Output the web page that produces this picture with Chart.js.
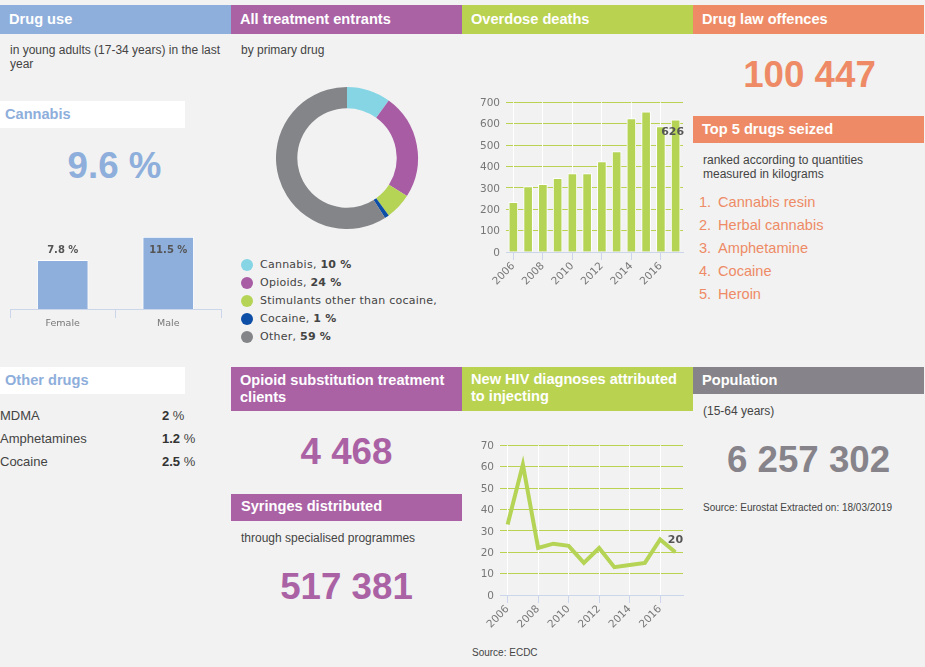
<!DOCTYPE html>
<html><head><meta charset="utf-8">
<script src="https://cdn.jsdelivr.net/npm/chart.js@4"></script>
<style>
html,body{margin:0;padding:0;background:#f2f2f2;}
#page{position:absolute;left:0;top:5px;width:924px;height:662px;background:#f2f2f2;overflow:hidden;font-family:"Liberation Sans",Arial,sans-serif;color:#444;}
.h{position:absolute;color:#fff;font-weight:bold;font-size:14.6px;line-height:17px;padding:5.5px 9px;box-sizing:border-box;}
.w{position:absolute;background:#fff;font-weight:bold;font-size:14.6px;padding-left:5px;box-sizing:border-box;color:#8eaedb;}
.t{position:absolute;font-size:12px;line-height:14px;color:#444;}
.n{position:absolute;font-weight:bold;text-align:center;}
canvas{position:absolute;}
#legend{position:absolute;left:241px;top:251px;font-family:"DejaVu Sans",sans-serif;font-size:11px;color:#444;letter-spacing:.25px;}
#legend div{height:18px;line-height:18px;white-space:nowrap;position:relative;padding-left:19px;}
#legend i{position:absolute;left:0;top:3px;width:12px;height:12px;border-radius:50%;}
#top5{position:absolute;left:699px;top:186px;font-size:14.6px;color:#ee8b66;}
#top5 div{height:23px;line-height:23px;white-space:nowrap;position:relative;}
#top5 span{position:absolute;left:19px;}
#other{position:absolute;left:0;top:399px;width:210px;font-size:13px;color:#444;}
#other div{height:23px;line-height:23px;position:relative;}
#other span{position:absolute;left:162px;}
#other b{color:#333;}
</style></head><body>
<div id="page"></div>
<script>
const genderLabels=['Female','Male'];
const genderValues=[7.8,11.5];
const genderValueText=['7.8 %','11.5 %'];
const treatmentLabels=['Cannabis','Opioids','Stimulants other than cocaine','Cocaine','Other'];
const treatmentValues=[10,24,6,1,59];
const treatmentLegendValues=['10 %','24 %','','1 %','59 %'];
const treatmentColors=['#85d5e5','#a85ca4','#b5d455','#0d4ea6','#848588'];
const years=['2006','2007','2008','2009','2010','2011','2012','2013','2014','2015','2016','2017'];
const deathValues=[232,306,316,344,367,367,423,470,624,656,586,618];
const deathLastLabel='626';
const hivValues=[33,61,22,24,23,15,22,13,14,15,26,20];
const hivLastLabel='20';
const deathTicks=[0,100,200,300,400,500,600,700];
const hivTicks=[0,10,20,30,40,50,60,70];
const seizedDrugs=['Cannabis resin','Herbal cannabis','Amphetamine','Cocaine','Heroin'];
const otherDrugs=['MDMA','Amphetamines','Cocaine'];
const otherDrugValues=['2','1.2','2.5'];

const BLUE='#8eaedb',PURPLE='#aa62a5',GREEN='#b9d24f',ORANGE='#ee8b66',GREY='#86848a';
const page=document.getElementById('page');
function el(cls,x,y,w,h,html,css){const d=document.createElement('div');d.className=cls;d.style.left=x+'px';d.style.top=(y-5)+'px';if(w!=null)d.style.width=w+'px';if(h!=null)d.style.height=h+'px';d.innerHTML=html;if(css)Object.assign(d.style,css);page.appendChild(d);return d;}
function canvas(x,y,w,h){const c=document.createElement('canvas');c.style.left=x+'px';c.style.top=(y-5)+'px';c.style.width=w+'px';c.style.height=h+'px';c.width=w;c.height=h;page.appendChild(c);return c;}

el('h',0,5,231,29,'Drug use',{background:BLUE});
el('h',231,5,231,29,'All treatment entrants',{background:PURPLE});
el('h',462,5,231,29,'Overdose deaths',{background:GREEN});
el('h',693,5,231,29,'Drug law offences',{background:ORANGE});
el('h',693,116,231,27,'Top 5 drugs seized',{background:ORANGE,paddingTop:'5px'});
el('h',231,367,231,44,'Opioid substitution treatment clients',{background:PURPLE,paddingTop:'5px'});
el('h',231,494,231,27,'Syringes distributed',{background:PURPLE,paddingTop:'4px',paddingLeft:'10px'});
el('h',462,367,231,44,'New HIV diagnoses attributed to injecting',{background:GREEN,paddingTop:'4px'});
el('h',693,367,231,27,'Population',{background:GREY,paddingTop:'5px'});
el('w',0,101,185,27,'Cannabis',{lineHeight:'26px'});
el('w',0,367,185,27,'Other drugs',{lineHeight:'27px'});
el('t',10,43,216,null,'in young adults (17-34 years) in the last year');
el('t',241,43,210,null,'by primary drug');
el('t',703,153,200,null,'ranked according to quantities<br>measured in kilograms');
el('t',703,404,200,null,'(15-64 years)');
el('t',241,531,210,null,'through specialised programmes');
el('t',703,501,215,null,'Source: Eurostat Extracted on: 18/03/2019',{fontSize:'10px'});
el('t',472,646,200,null,'Source: ECDC',{fontSize:'10px'});
el('n',0,145,229,null,'9.6 %',{fontSize:'36.7px',color:BLUE});
el('n',693,54,233,null,'100 447',{fontSize:'36.7px',color:ORANGE});
el('n',231,431,231,null,'4 468',{fontSize:'36.7px',color:PURPLE});
el('n',231,566,231,null,'517 381',{fontSize:'36.7px',color:PURPLE});
el('n',693,439,231,null,'6 257 302',{fontSize:'36.7px',color:GREY});

const leg=document.createElement('div');leg.id='legend';
treatmentLabels.forEach((l,i)=>{const d=document.createElement('div');const v=treatmentLegendValues[i];d.innerHTML='<i style="background:'+treatmentColors[i]+'"></i>'+l+','+(v?' <b>'+v+'</b>':'');leg.appendChild(d);});
page.appendChild(leg);
const t5=document.createElement('div');t5.id='top5';
seizedDrugs.forEach((s,i)=>{const d=document.createElement('div');d.innerHTML=(i+1)+'.<span>'+s+'</span>';t5.appendChild(d);});
page.appendChild(t5);
const od=document.createElement('div');od.id='other';
otherDrugs.forEach((s,i)=>{const d=document.createElement('div');d.innerHTML=s+'<span><b>'+otherDrugValues[i]+'</b> %</span>';od.appendChild(d);});
page.appendChild(od);

Chart.defaults.animation=false;
Chart.defaults.responsive=false;
Chart.defaults.font.family='"DejaVu Sans",sans-serif';
Chart.defaults.plugins.legend.display=false;
Chart.defaults.plugins.tooltip.enabled=false;
const LAB='#777',AXIS='#ccd6eb';

function labelPlugin(texts,dx,dy,font){return{id:'lbl',afterDatasetsDraw(c){const m=c.getDatasetMeta(0),x=c.ctx;x.save();x.font=font;x.fillStyle='#555';x.textAlign='center';x.textBaseline='middle';m.data.forEach((p,i)=>{if(texts[i]==null)return;x.fillText(texts[i],p.x+dx,p.y+dy);});x.restore();}};}
function fixBox(w,h){return s=>{if(w!=null)s.width=w;if(h!=null)s.height=h;};}

new Chart(canvas(0,224,231,110),{type:'bar',
 data:{labels:genderLabels,datasets:[{data:genderValues,backgroundColor:BLUE,borderColor:'#fff',borderWidth:1,barThickness:51}]},
 options:{layout:{padding:{left:10,right:10,top:10,bottom:0}},
  scales:{y:{display:false,min:0,max:12},
   x:{afterFit:fixBox(null,25),border:{color:AXIS,width:1},grid:{offset:true,drawOnChartArea:false,color:AXIS,tickLength:9},
      ticks:{color:'#777',font:{size:9.5},padding:0,maxRotation:0}}}},
 plugins:[{id:'gl',afterDatasetsDraw(c){const m=c.getDatasetMeta(0),x=c.ctx;x.save();x.font='bold 10px "DejaVu Sans"';x.fillStyle='#555';x.textAlign='center';x.textBaseline='middle';x.fillText(genderValueText[0],m.data[0].x,m.data[0].y-10);x.fillText(genderValueText[1],m.data[1].x,m.data[1].y+13);x.restore();}}]});

new Chart(canvas(266,77,162,162),{type:'doughnut',
 data:{labels:treatmentLabels,datasets:[{data:treatmentValues,backgroundColor:treatmentColors,borderWidth:0}]},
 options:{cutout:'70%',radius:71,layout:{padding:0}}});

function yearAxis(){return{afterFit:fixBox(null,40),offset:true,border:{color:AXIS},
  grid:{offset:false,color:c=>c.index%2==0?'#fff':'rgba(0,0,0,0)',tickColor:c=>c.index%2==0?AXIS:'rgba(0,0,0,0)',tickLength:8,z:0},
  ticks:{autoSkip:false,maxRotation:45,minRotation:45,color:LAB,font:{size:10.5},padding:0,
    callback(v,i){return i%2==0?this.getLabelForValue(v):'';}}};}
function valAxis(ticks,w){return{min:0,max:ticks[ticks.length-1],afterFit:fixBox(w,null),border:{display:false},
  grid:{color:GREEN,tickLength:0},afterBuildTicks(a){a.ticks=ticks.map(v=>({value:v}));},
  ticks:{color:LAB,font:{size:10.5},padding:6,labelOffset:1}};}

new Chart(canvas(462,90,231,202),{type:'bar',
 data:{labels:years,datasets:[{data:deathValues,backgroundColor:'#b5d455',borderColor:'#fff',borderWidth:1,barThickness:9}]},
 options:{layout:{padding:{left:0,right:10,top:10,bottom:0}},
  scales:{x:yearAxis(),y:valAxis(deathTicks,44)}},
 plugins:[labelPlugin(years.map((y,i)=>i==11?deathLastLabel:null),-3,12,'bold 11px "DejaVu Sans"')]});

new Chart(canvas(462,433,231,202),{type:'line',
 data:{labels:years,datasets:[{data:hivValues,borderColor:'#b5d455',borderWidth:4,pointRadius:0,tension:0,fill:false}]},
 options:{layout:{padding:{left:0,right:10,top:10,bottom:0}},
  scales:{x:yearAxis(),y:valAxis(hivTicks,38)}},
 plugins:[labelPlugin(years.map((y,i)=>i==11?hivLastLabel:null),0,-12,'bold 11px "DejaVu Sans"')]});
</script>
</body></html>
